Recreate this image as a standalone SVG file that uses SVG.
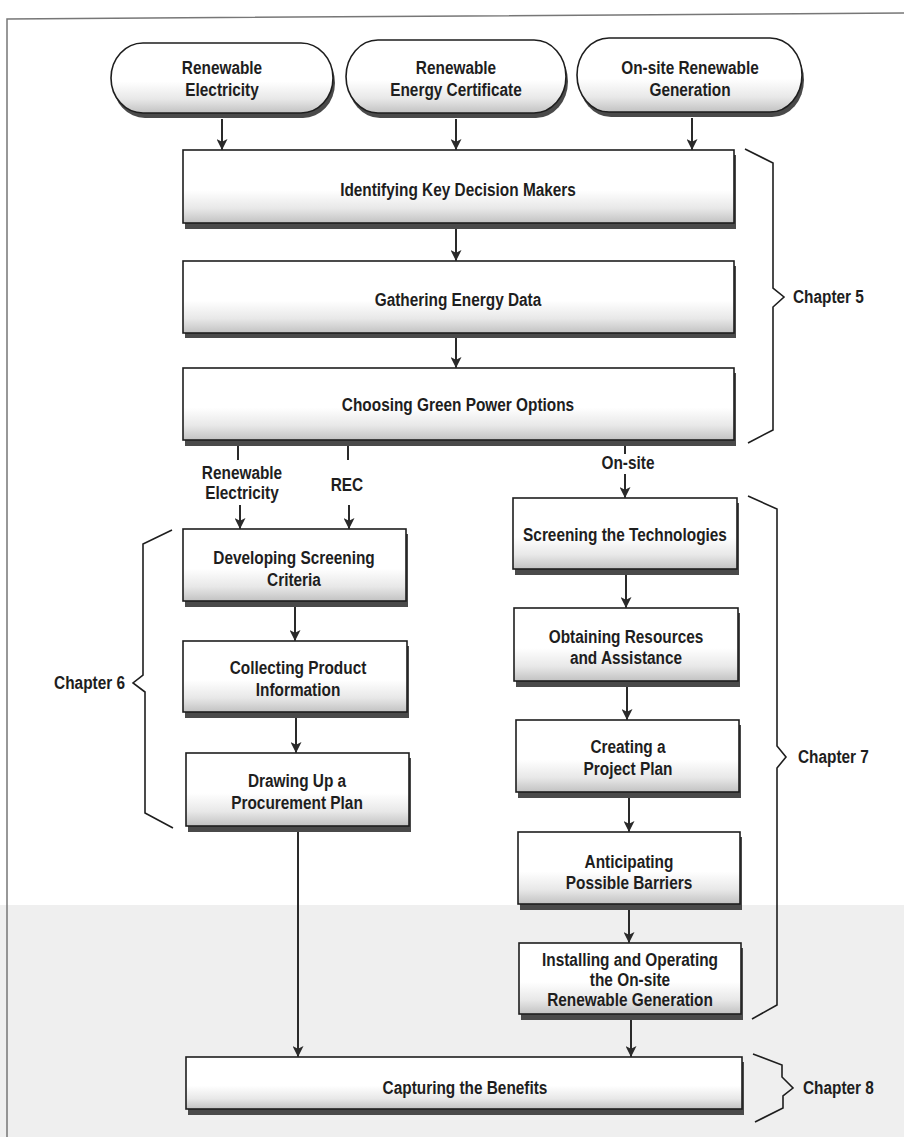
<svg xmlns="http://www.w3.org/2000/svg" width="904" height="1137" viewBox="0 0 904 1137">
<style>
.bg{fill:#ffffff}
.band{fill:#efefef}
.frame{stroke:#777;stroke-width:1.5;fill:none}
.box{fill:url(#g);stroke:#1e1e1e;stroke-width:1.6}
.shd{fill:#4a4a4a}
.t{font-family:"Liberation Sans",Arial,sans-serif;font-weight:bold;font-size:19px;fill:#1e1e1e;text-anchor:middle}
.te{text-anchor:end}
.ts{text-anchor:start}
.c{stroke:#2a2a2a;stroke-width:2;fill:none}
.a{marker-end:url(#ah)}
.br{stroke:#1e1e1e;stroke-width:1.6;fill:none;stroke-linejoin:miter}
</style>
<defs>
<linearGradient id="g" x1="0" y1="0" x2="0" y2="1">
<stop offset="0" stop-color="#ffffff"/>
<stop offset="0.55" stop-color="#ffffff"/>
<stop offset="0.8" stop-color="#e8e8e8"/>
<stop offset="1" stop-color="#c2c2c2"/>
</linearGradient>
<marker id="ah" markerUnits="userSpaceOnUse" viewBox="0 0 10 10" markerWidth="11" markerHeight="11" refX="10" refY="5" orient="auto">
<path d="M0,0 L10,5 L0,10 L2.5,5 Z" fill="#2a2a2a"/>
</marker>
</defs>
<rect class="bg" x="0" y="0" width="904" height="1137"/>
<rect class="band" x="0" y="905" width="904" height="232"/>
<path class="frame" d="M7,1137 V19 L904,13"/>

<g id="t1">
<path class="shd" d="M145,48 H303 A32,35 0 0 1 303,118 H145 A32,35 0 0 1 145,48 Z"/>
<path class="box" d="M143,43 H301 A32,35 0 0 1 301,113 H143 A32,35 0 0 1 143,43 Z"/>
<text class="t" transform="translate(222,74) scale(0.81,1)">Renewable</text>
<text class="t" transform="translate(222,96) scale(0.81,1)">Electricity</text>
</g>
<g id="t2">
<path class="shd" d="M380,45 H536 A32,36.5 0 0 1 536,118 H380 A32,36.5 0 0 1 380,45 Z"/>
<path class="box" d="M378,40 H534 A32,36.5 0 0 1 534,113 H378 A32,36.5 0 0 1 378,40 Z"/>
<text class="t" transform="translate(456,74) scale(0.81,1)">Renewable</text>
<text class="t" transform="translate(456,96) scale(0.81,1)">Energy Certificate</text>
</g>
<g id="t3">
<path class="shd" d="M611,43 H772 A32,37 0 0 1 772,117 H611 A32,37 0 0 1 611,43 Z"/>
<path class="box" d="M609,38 H770 A32,37 0 0 1 770,112 H609 A32,37 0 0 1 609,38 Z"/>
<text class="t" transform="translate(690,74) scale(0.81,1)">On-site Renewable</text>
<text class="t" transform="translate(690,96) scale(0.81,1)">Generation</text>
</g>

<g id="b1">
<rect class="shd" x="185" y="155" width="551" height="74"/>
<rect class="box" x="183" y="150" width="551" height="73"/>
<text class="t" transform="translate(458,196) scale(0.81,1)">Identifying Key Decision Makers</text>
</g>
<g id="b2">
<rect class="shd" x="185" y="266" width="551" height="72"/>
<rect class="box" x="183" y="261" width="551" height="72"/>
<text class="t" transform="translate(458,306) scale(0.81,1)">Gathering Energy Data</text>
</g>
<g id="b3">
<rect class="shd" x="185" y="373" width="551" height="73"/>
<rect class="box" x="183" y="368" width="551" height="72"/>
<text class="t" transform="translate(458,411) scale(0.81,1)">Choosing Green Power Options</text>
</g>

<g id="b4">
<rect class="shd" x="185" y="534" width="223" height="73"/>
<rect class="box" x="183" y="529" width="223" height="72"/>
<text class="t" transform="translate(294,564) scale(0.81,1)">Developing Screening</text>
<text class="t" transform="translate(294,586) scale(0.81,1)">Criteria</text>
</g>
<g id="b5">
<rect class="shd" x="185" y="646" width="224" height="72"/>
<rect class="box" x="183" y="641" width="224" height="71"/>
<text class="t" transform="translate(298,674) scale(0.81,1)">Collecting Product</text>
<text class="t" transform="translate(298,696) scale(0.81,1)">Information</text>
</g>
<g id="b6">
<rect class="shd" x="188" y="758" width="223" height="74"/>
<rect class="box" x="186" y="753" width="223" height="73"/>
<text class="t" transform="translate(297,787) scale(0.81,1)">Drawing Up a</text>
<text class="t" transform="translate(297,809) scale(0.81,1)">Procurement Plan</text>
</g>

<g id="b7">
<rect class="shd" x="515" y="503" width="224" height="72"/>
<rect class="box" x="513" y="498" width="224" height="71"/>
<text class="t" transform="translate(625,541) scale(0.81,1)">Screening the Technologies</text>
</g>
<g id="b8">
<rect class="shd" x="516" y="613" width="224" height="74"/>
<rect class="box" x="514" y="608" width="224" height="73"/>
<text class="t" transform="translate(626,643) scale(0.81,1)">Obtaining Resources</text>
<text class="t" transform="translate(626,664) scale(0.81,1)">and Assistance</text>
</g>
<g id="b9">
<rect class="shd" x="518" y="725" width="223" height="73"/>
<rect class="box" x="516" y="720" width="223" height="72"/>
<text class="t" transform="translate(628,753) scale(0.81,1)">Creating a</text>
<text class="t" transform="translate(628,775) scale(0.81,1)">Project Plan</text>
</g>
<g id="b10">
<rect class="shd" x="520" y="837" width="222" height="73"/>
<rect class="box" x="518" y="832" width="222" height="72"/>
<text class="t" transform="translate(629,868) scale(0.81,1)">Anticipating</text>
<text class="t" transform="translate(629,889) scale(0.81,1)">Possible Barriers</text>
</g>
<g id="b11">
<rect class="shd" x="521" y="948" width="222" height="72"/>
<rect class="box" x="519" y="943" width="222" height="71"/>
<text class="t" transform="translate(630,966) scale(0.81,1)">Installing and Operating</text>
<text class="t" transform="translate(630,986) scale(0.81,1)">the On-site</text>
<text class="t" transform="translate(630,1006) scale(0.81,1)">Renewable Generation</text>
</g>
<g id="b12">
<rect class="shd" x="188" y="1062" width="556" height="53"/>
<rect class="box" x="186" y="1057" width="556" height="52"/>
<text class="t" transform="translate(465,1094) scale(0.81,1)">Capturing the Benefits</text>
</g>

<g id="connectors">
<line class="c a" x1="222" y1="119" x2="222" y2="150"/>
<line class="c a" x1="456" y1="119" x2="456" y2="150"/>
<line class="c a" x1="692" y1="118" x2="692" y2="150"/>
<line class="c a" x1="456" y1="229" x2="456" y2="261"/>
<line class="c a" x1="456" y1="338" x2="456" y2="368"/>
<line class="c" x1="238" y1="446" x2="238" y2="460"/>
<line class="c" x1="348" y1="446" x2="348" y2="460"/>
<line class="c a" x1="240" y1="505" x2="240" y2="529"/>
<line class="c a" x1="349" y1="505" x2="349" y2="529"/>
<line class="c" x1="625" y1="446" x2="625" y2="454"/>
<line class="c a" x1="625" y1="474" x2="625" y2="498"/>
<line class="c a" x1="295" y1="607" x2="295" y2="641"/>
<line class="c a" x1="296" y1="718" x2="296" y2="753"/>
<line class="c a" x1="298" y1="832" x2="298" y2="1057"/>
<line class="c a" x1="626" y1="575" x2="626" y2="608"/>
<line class="c a" x1="627" y1="687" x2="627" y2="720"/>
<line class="c a" x1="629" y1="798" x2="629" y2="832"/>
<line class="c a" x1="629" y1="910" x2="629" y2="943"/>
<line class="c a" x1="631" y1="1020" x2="631" y2="1057"/>
</g>

<g id="labels">
<text class="t" transform="translate(242,479) scale(0.81,1)">Renewable</text>
<text class="t" transform="translate(242,499) scale(0.81,1)">Electricity</text>
<text class="t" transform="translate(347,491) scale(0.81,1)">REC</text>
<text class="t" transform="translate(628,469) scale(0.81,1)">On-site</text>
</g>

<g id="ch5">
<path class="br" d="M745,149 L773,163 V288 L784,297 L773,307 V430 L748,443"/>
<text class="t ts" transform="translate(793,303) scale(0.81,1)">Chapter 5</text>
</g>
<g id="ch6">
<path class="br" d="M172,530 L143,544 V675 L133,683 L145,692 V813 L173,828"/>
<text class="t te" transform="translate(125,689) scale(0.81,1)">Chapter 6</text>
</g>
<g id="ch7">
<path class="br" d="M748,496 L777,509 V746 L786,757 L777,768 V1005 L752,1019"/>
<text class="t ts" transform="translate(798,763) scale(0.81,1)">Chapter 7</text>
</g>
<g id="ch8">
<path class="br" d="M753,1054 L782,1065 V1077 L793,1088 L783,1096 V1108 L755,1122"/>
<text class="t ts" transform="translate(803,1094) scale(0.81,1)">Chapter 8</text>
</g>
</svg>
